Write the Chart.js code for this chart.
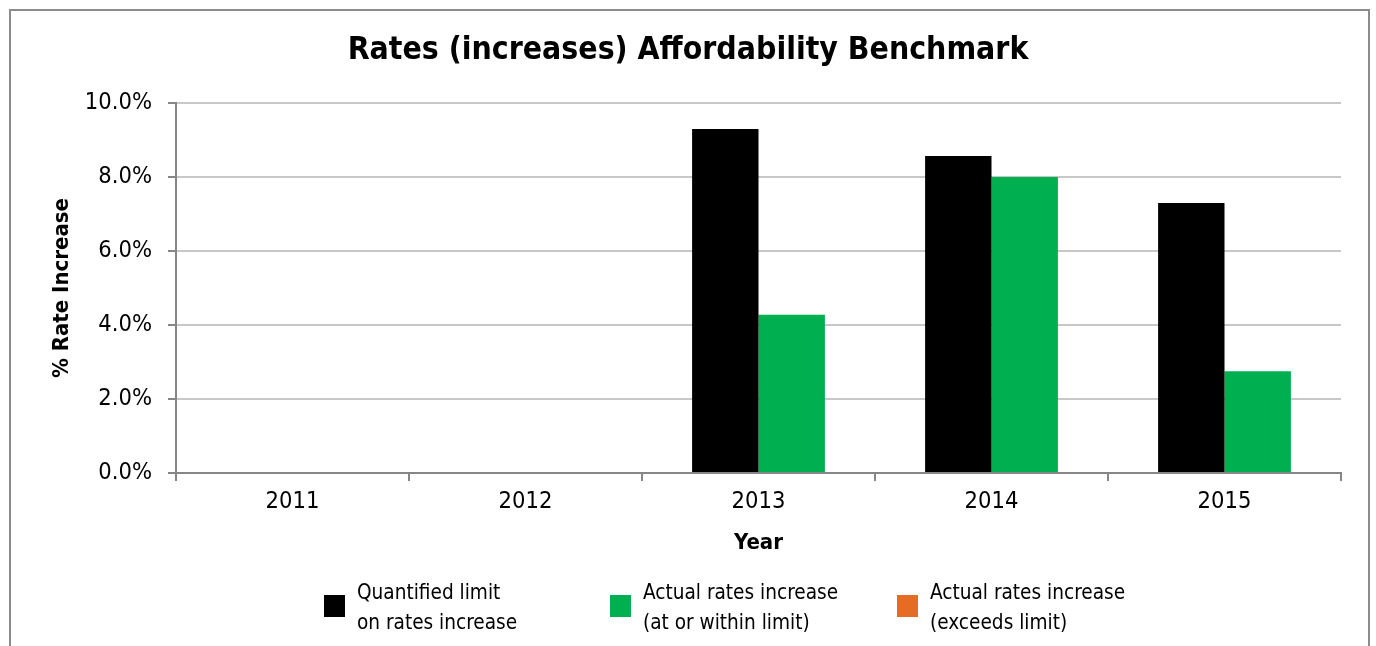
<!DOCTYPE html>
<html>
<head>
<meta charset="utf-8">
<script src="https://cdn.jsdelivr.net/npm/chart.js@4.4.1/dist/chart.umd.min.js"></script>
<style>
  html, body { margin: 0; padding: 0; background: #ffffff; }
  #wrap { position: relative; width: 1376px; height: 646px; }
</style>
</head>
<body>
<div id="wrap"><canvas id="chart" width="1376" height="646"></canvas></div>
<script>
// Rates (increases) affordability benchmark data
const years = ['2011', '2012', '2013', '2014', '2015'];
const quantifiedLimit = [null, null, 9.30, 8.57, 7.30];
const actualWithinLimit = [null, null, 4.28, 8.00, 2.75];
const actualExceedsLimit = [null, null, null, null, null];
const yTicks = [0, 2, 4, 6, 8, 10];

const FONT = '"DejaVu Sans Condensed", "DejaVu Sans", sans-serif';

// Outer frame around the whole chart
const framePlugin = {
  id: 'frame',
  beforeDraw(chart) {
    const ctx = chart.ctx;
    ctx.save();
    ctx.fillStyle = '#ffffff';
    ctx.fillRect(0, 0, chart.width, chart.height);
    ctx.strokeStyle = '#8c8c8c';
    ctx.lineWidth = 2;
    ctx.strokeRect(10, 10, 1359, 660);
    ctx.restore();
  }
};

// Legend with fixed-width slots and two-line labels
const legendPlugin = {
  id: 'slotLegend',
  afterDraw(chart) {
    const ctx = chart.ctx;
    const slotX = [324, 610, 897];
    ctx.save();
    ctx.font = '20.6px ' + FONT;
    ctx.textBaseline = 'alphabetic';
    ctx.textAlign = 'left';
    chart.data.datasets.forEach((ds, i) => {
      const x = slotX[i];
      ctx.fillStyle = ds.backgroundColor;
      ctx.fillRect(x, 595, 21, 22);
      ctx.fillStyle = '#000000';
      ds.label.forEach((line, j) => {
        ctx.fillText(line, x + 33, 599 + j * 30);
      });
    });
    ctx.restore();
  }
};

new Chart(document.getElementById('chart'), {
  type: 'bar',
  data: {
    labels: years,
    datasets: [
      {
        label: ['Quantified limit', 'on rates increase'],
        data: quantifiedLimit,
        backgroundColor: '#000000',
        stack: 'limit'
      },
      {
        label: ['Actual rates increase', '(at or within limit)'],
        data: actualWithinLimit,
        backgroundColor: '#00b050',
        stack: 'actual'
      },
      {
        label: ['Actual rates increase', '(exceeds limit)'],
        data: actualExceedsLimit,
        backgroundColor: '#e46c24',
        stack: 'actual'
      }
    ]
  },
  options: {
    responsive: false,
    animation: false,
    events: [],
    layout: { padding: { top: 0, left: 0, right: 0, bottom: 89.6 } },
    datasets: {
      bar: { categoryPercentage: 0.57, barPercentage: 1.0 }
    },
    plugins: {
      legend: { display: false },
      tooltip: { enabled: false },
      title: {
        display: true,
        text: 'Rates (increases) Affordability Benchmark',
        color: '#000000',
        font: { family: FONT, size: 31.7, weight: 'bold', lineHeight: 1.2 },
        padding: { top: 31.5, bottom: 33.5 }
      }
    },
    scales: {
      x: {
        stacked: true,
        grid: {
          offset: true,
          drawOnChartArea: false,
          drawTicks: true,
          tickLength: 8,
          tickColor: '#868686',
          lineWidth: 2
        },
        border: { color: '#868686', width: 2 },
        ticks: {
          color: '#000000',
          font: { family: FONT, size: 23.5 },
          padding: 7
        },
        title: {
          display: true,
          text: 'Year',
          color: '#000000',
          font: { family: FONT, size: 22, weight: 'bold', lineHeight: 1.2 },
          padding: { top: 0, bottom: 0 }
        },
        afterFit(scale) { scale.height = 83.4; }
      },
      y: {
        stacked: false,
        min: 0,
        max: 10,
        afterBuildTicks(scale) {
          scale.ticks = yTicks.map(v => ({ value: v }));
        },
        grid: {
          color: '#c8c8c8',
          lineWidth: 2,
          drawTicks: true,
          tickLength: 8,
          tickColor: '#868686'
        },
        border: { color: '#868686', width: 2 },
        ticks: {
          color: '#000000',
          font: { family: FONT, size: 23.5 },
          padding: 16,
          callback: v => v.toFixed(1) + '%'
        },
        title: {
          display: true,
          text: '% Rate Increase',
          color: '#000000',
          font: { family: FONT, size: 22, weight: 'bold', lineHeight: 1.2 },
          padding: { top: 49, bottom: 0 }
        },
        afterFit(scale) { scale.width = 176; }
      },
      // empty right-hand margin so the title stays centred on the full canvas
      yMargin: {
        type: 'linear',
        position: 'right',
        min: 0,
        max: 10,
        grid: { display: false, drawOnChartArea: false },
        border: { display: false },
        ticks: { display: false },
        afterFit(scale) { scale.width = 35; }
      }
    }
  },
  plugins: [framePlugin, legendPlugin]
});
</script>
</body>
</html>
